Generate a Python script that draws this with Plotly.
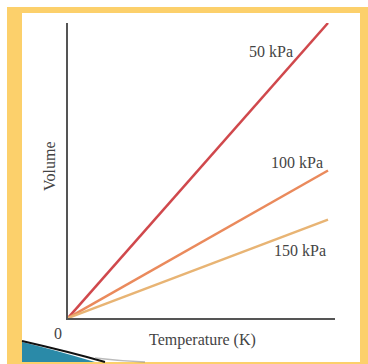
import plotly.graph_objects as go

# Data
pressures = ["50 kPa", "100 kPa", "150 kPa"]
temperature = [0, 1]
volume_50 = [0, 3.0]
volume_100 = [0, 1.5]
volume_150 = [0, 1.0]
colors = ["#d0484c", "#ea8a5c", "#e8b474"]

W, H = 368, 364
def px(x):
    return x / W
def py(y):
    return 1 - y / H

fig = go.Figure()
for name, vals, c in zip(pressures, [volume_50, volume_100, volume_150], colors):
    fig.add_trace(go.Scatter(x=temperature, y=vals, mode="lines", name=name,
                             line=dict(color=c, width=2.5), cliponaxis=False,
                             hoverinfo="skip"))

font = dict(family="Liberation Serif, DejaVu Serif, serif", size=16, color="#444444")

annots = [
    dict(text=pressures[0], x=px(271), y=py(52)),
    dict(text=pressures[1], x=px(297), y=py(162)),
    dict(text=pressures[2], x=px(300), y=py(250)),
    dict(text="0", x=px(58), y=py(333)),
    dict(text="Temperature (K)", x=px(202), y=py(340)),
    dict(text="Volume", x=px(50), y=py(167), textangle=-90),
]
for a in annots:
    a.update(xref="paper", yref="paper", showarrow=False, font=font,
             xanchor="center", yanchor="middle")

shapes = [
    dict(type="rect", xref="paper", yref="paper", x0=px(7), x1=px(368), y0=py(364), y1=py(7),
         fillcolor="#fcd06b", line=dict(width=0), layer="below"),
    dict(type="rect", xref="paper", yref="paper", x0=px(22), x1=px(360), y0=py(362), y1=py(13),
         fillcolor="#ffffff", line=dict(width=0), layer="below"),
    dict(type="path", xref="paper", yref="paper",
         path=f"M {px(22)} {py(342)} Q {px(55)} {py(350)} {px(95)} {py(362)} L {px(22)} {py(362)} Z",
         fillcolor="#2a8aa8", line=dict(width=0), layer="above"),
    dict(type="path", xref="paper", yref="paper",
         path=f"M {px(22)} {py(341)} Q {px(70)} {py(352)} {px(105)} {py(362)}",
         line=dict(color="#111111", width=2), layer="above"),
    dict(type="path", xref="paper", yref="paper",
         path=f"M {px(95)} {py(358)} Q {px(120)} {py(361)} {px(145)} {py(362)}",
         line=dict(color="rgba(120,120,120,0.5)", width=1.5), layer="above"),
]

fig.update_layout(
    width=W, height=H,
    margin=dict(l=0, r=0, t=0, b=0),
    paper_bgcolor="#ffffff",
    plot_bgcolor="rgba(0,0,0,0)",
    showlegend=False,
    annotations=annots,
    shapes=shapes,
    xaxis=dict(domain=[px(68), px(335)], range=[0, 267 / 260], showline=True,
               linecolor="#555555", linewidth=1.5, showgrid=False, zeroline=False,
               showticklabels=False, ticks=""),
    yaxis=dict(domain=[py(318), py(23)], range=[0, 3.0], showline=True,
               linecolor="#555555", linewidth=1.5, showgrid=False, zeroline=False,
               showticklabels=False, ticks=""),
)

fig.write_html("out.html", config={"displayModeBar": False},
               post_script="document.body.style.margin='0';document.body.style.overflow='hidden';")
